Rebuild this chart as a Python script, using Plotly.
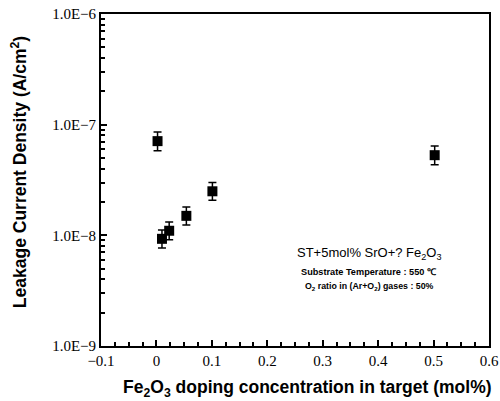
import plotly.graph_objects as go

# Data
fe2o3_mol = [0.002, 0.010, 0.023, 0.054, 0.101, 0.502]
leakage = [7.1e-8, 9.3e-9, 1.1e-8, 1.5e-8, 2.5e-8, 5.3e-8]
err_plus = [1.5e-8, 1.9e-9, 2.2e-9, 3.0e-9, 5.0e-9, 1.1e-8]
err_minus = [1.3e-8, 1.6e-9, 1.9e-9, 2.6e-9, 4.2e-9, 9.5e-9]

y_tickvals = [1e-9, 1e-8, 1e-7, 1e-6]
y_ticktext = ["1.0E\u22129", "1.0E\u22128", "1.0E\u22127", "1.0E\u22126"]
x_tickvals = [-0.1, 0, 0.1, 0.2, 0.3, 0.4, 0.5, 0.6]
x_ticktext = ["\u22120.1", "0", "0.1", "0.2", "0.3", "0.4", "0.5", "0.6"]

# minor tick positions (axis decoration)
y_minor = [k * 10.0 ** e for e in (-9, -8, -7) for k in range(2, 10)]
x_minor = [round(-0.1 + 0.025 * i, 3) for i in range(29)]

fig = go.Figure()
fig.add_trace(go.Scatter(
    x=fe2o3_mol, y=leakage, mode="markers",
    marker=dict(symbol="square", size=10, color="black"),
    error_y=dict(type="data", symmetric=False, array=err_plus, arrayminus=err_minus,
                 color="black", thickness=1.5, width=4),
    showlegend=False,
))
# empty helper trace so the minor-tick overlay axes are drawn
fig.add_trace(go.Scatter(x=[], y=[], xaxis="x2", yaxis="y2", showlegend=False, hoverinfo="skip"))

serif = "Liberation Serif, Times New Roman, serif"
sans = "Liberation Sans, Arial, sans-serif"

fig.update_layout(
    width=500, height=401,
    margin=dict(l=101, r=11, t=14, b=55),
    paper_bgcolor="white", plot_bgcolor="white",
    xaxis=dict(
        range=[-0.1, 0.6], tickmode="array", tickvals=x_tickvals, ticktext=x_ticktext,
        showline=True, linecolor="black", linewidth=2, mirror=True,
        ticks="inside", ticklen=6, tickcolor="black", tickwidth=1.5,
        showgrid=False, zeroline=False, automargin=False,
        tickfont=dict(family=serif, size=15, color="black"),
    ),
    yaxis=dict(
        type="log", range=[-9, -6], tickmode="array", tickvals=y_tickvals, ticktext=y_ticktext,
        showline=True, linecolor="black", linewidth=2, mirror=True,
        ticks="inside", ticklen=6, tickcolor="black", tickwidth=1.5,
        showgrid=False, zeroline=False, automargin=False,
        tickfont=dict(family=serif, size=15, color="black"),
    ),
    xaxis2=dict(
        overlaying="x", side="bottom", anchor="y", range=[-0.1, 0.6],
        tickmode="array", tickvals=x_minor, ticks="inside", ticklen=4,
        tickcolor="black", tickwidth=1.5, showticklabels=False,
        showgrid=False, zeroline=False, showline=False, automargin=False,
    ),
    yaxis2=dict(
        overlaying="y", side="left", anchor="x", type="log", range=[-9, -6],
        tickmode="array", tickvals=y_minor, ticks="inside", ticklen=4,
        tickcolor="black", tickwidth=1.5, showticklabels=False,
        showgrid=False, zeroline=False, showline=False, automargin=False,
    ),
    annotations=[
        dict(text="<b>Leakage Current Density (A/cm<sup>2</sup>)</b>", xref="paper", yref="paper",
             x=-0.211, y=0.524, textangle=-90, showarrow=False,
             font=dict(family=sans, size=17.5, color="black"), xanchor="center", yanchor="middle"),
        dict(text="<b>Fe<sub>2</sub>O<sub>3</sub> doping concentration in target (mol%)</b>",
             xref="paper", yref="paper", x=0.531, y=-0.127, showarrow=False,
             font=dict(family=sans, size=17.5, color="black"), xanchor="center", yanchor="middle"),
        dict(text="ST+5mol% SrO+? Fe<sub>2</sub>O<sub>3</sub>", xref="paper", yref="paper",
             x=0.691, y=0.28, showarrow=False, xanchor="center", yanchor="middle",
             font=dict(family=sans, size=13, color="black")),
        dict(text="<b>Substrate Temperature : 550 \u2103</b>", xref="paper", yref="paper",
             x=0.691, y=0.223, showarrow=False, xanchor="center", yanchor="middle",
             font=dict(family=sans, size=9.2, color="black")),
        dict(text="<b>O<sub>2</sub> ratio in (Ar+O<sub>2</sub>) gases : 50%</b>", xref="paper", yref="paper",
             x=0.691, y=0.178, showarrow=False, xanchor="center", yanchor="middle",
             font=dict(family=sans, size=8.8, color="black")),
    ],
)

fig.write_html("out.html", config={"displayModeBar": False},
               post_script="document.body.style.margin='0';document.body.style.overflow='hidden';")
